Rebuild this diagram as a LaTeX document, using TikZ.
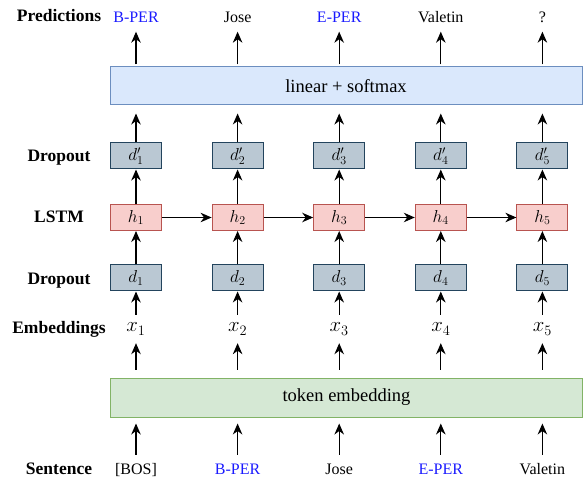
\documentclass[tikz,border=0pt]{standalone}
\usepackage[no-math]{fontspec}
\setmainfont{Liberation Serif}
\usetikzlibrary{arrows.meta}
\usepackage{xcolor}
\definecolor{linearFill}{HTML}{DAE8FC}
\definecolor{linearLine}{HTML}{6C8EBF}
\definecolor{embedFill}{HTML}{D5E8D4}
\definecolor{embedLine}{HTML}{82B366}
\definecolor{dropFill}{HTML}{BAC8D3}
\definecolor{dropLine}{HTML}{23445D}
\definecolor{lstmFill}{HTML}{F8CECC}
\definecolor{lstmLine}{HTML}{B85450}
\definecolor{tagBlue}{HTML}{1A1AFF}
\tikzset{
    SideLabel/.style={anchor=base, font=\fontsize{17.5}{21}\selectfont\bfseries},
    TokenText/.style={anchor=base, font=\fontsize{16}{19}\selectfont, inner xsep=0pt, inner ysep=8.5pt, text height=10.5pt, text depth=0pt},
    TagText/.style={TokenText, text=tagBlue},
    CellBox/.style={draw=dropLine, fill=dropFill, line width=1pt, minimum width=51pt, minimum height=26pt, inner sep=0pt, font=\fontsize{18}{22}\selectfont},
    LstmBox/.style={CellBox, draw=lstmLine, fill=lstmFill},
    WideBox/.style={line width=1pt, minimum width=472pt, minimum height=38pt, inner sep=0pt, font=\fontsize{18.5}{22}\selectfont},
    EmbedText/.style={minimum height=28pt, inner sep=0pt, font=\fontsize{20.5}{24}\selectfont},
    FlowArrow/.style={-{Stealth[length=11pt, width=9.5pt, inset=3.5pt]}, line width=1.2pt}
}

\begin{document}
\begin{tikzpicture}[x=1pt, y=1pt]
    \useasboundingbox (0,0) rectangle (584,-481);

    % row names on the left
    \node[SideLabel] (labPred) at (59,-22) {Predictions};
    \node[SideLabel] (labDropTop) at (59,-162) {Dropout};
    \node[SideLabel] (labLstm) at (59,-223) {LSTM};
    \node[SideLabel] (labDropLow) at (59,-284) {Dropout};
    \node[SideLabel] (labEmb) at (59,-334) {Embeddings};
    \node[SideLabel] (labSent) at (59,-474) {Sentence};

    % the two wide layers
    \node[WideBox, draw=linearLine, fill=linearFill] (lin) at (346,-86) {linear + softmax};
    \node[WideBox, draw=embedLine, fill=embedFill, minimum height=39pt] (tok) at (346.5,-397.5) {token embedding};

    % one column per time step
    \foreach \i/\xx in {1/136, 2/237.6, 3/339.2, 4/440.8, 5/542.4} {
        \node[CellBox] (dp\i) at (\xx,-156) {$d'_\i$};
        \node[LstmBox] (h\i) at (\xx,-217.5) {$h_\i$};
        \node[CellBox] (d\i) at (\xx,-278) {$d_\i$};
        \node[EmbedText] (x\i) at (\xx,-329) {$x_\i$};
    }

    % predicted and input tokens
    \node[TagText] (p1) at (136,-23) {B-PER};
    \node[TokenText] (p2) at (237.6,-23) {Jose};
    \node[TagText] (p3) at (339.2,-23) {E-PER};
    \node[TokenText] (p4) at (440.8,-23) {Valetin};
    \node[TokenText] (p5) at (542.4,-23) {?};

    \node[TokenText] (s1) at (136,-474) {[BOS]};
    \node[TagText] (s2) at (237.6,-474) {B-PER};
    \node[TokenText] (s3) at (339.2,-474) {Jose};
    \node[TagText] (s4) at (440.8,-474) {E-PER};
    \node[TokenText] (s5) at (542.4,-474) {Valetin};

    % arrows
    \foreach \i in {1,...,5} {
        \draw[FlowArrow, shorten >=6pt] (s\i.north) -- (s\i.north |- tok.south);
        \draw[FlowArrow, shorten <=8pt] (x\i.south |- tok.north) -- (x\i.south);
        \draw[FlowArrow] (x\i.north) -- (d\i.south);
        \draw[FlowArrow] (d\i.north) -- (h\i.south);
        \draw[FlowArrow] (h\i.north) -- (dp\i.south);
        \draw[FlowArrow, shorten >=8pt] (dp\i.north) -- (dp\i.north |- lin.south);
        \draw[FlowArrow, shorten <=2pt] (p\i.south |- lin.north) -- (p\i.south);
    }
    \foreach \i/\j in {1/2, 2/3, 3/4, 4/5} {
        \draw[FlowArrow] (h\i.east) -- (h\j.west);
    }
\end{tikzpicture}
\end{document}
